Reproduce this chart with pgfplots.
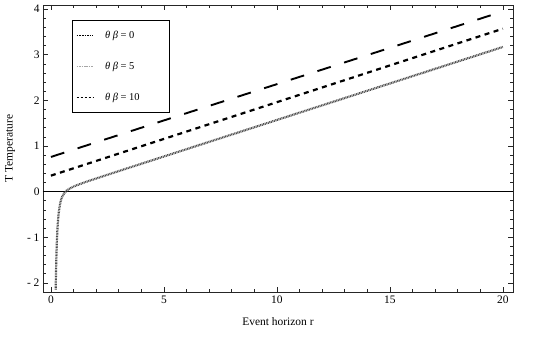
\documentclass[border=0pt]{standalone}
\usepackage{fontspec}
\setmainfont{Liberation Serif}
\usepackage{pgfplots}
\pgfplotsset{compat=1.18}
\begin{document}
\begin{tikzpicture}
\begin{axis}[
  scale only axis, width=470bp, height=287bp,
  xmin=-0.35, xmax=20.45, ymin=-2.2, ymax=4.09,
  xtick={0,5,10,15,20}, minor x tick num=4,
  ytick={-2,-1,0,1,2,3,4}, yticklabels={- 2,- 1,0,1,2,3,4}, minor y tick num=4,
  tick align=inside, major tick length=5bp, minor tick length=3bp,
  axis line style={line width=0.8pt, black!85},
  tick style={black!85, line width=0.6pt},
  tick label style={font=\fontsize{11.5}{11.5}\selectfont},
  /pgf/number format/assume math mode=true,
  xlabel={Event horizon r}, ylabel={T Temperature},
  label style={font=\fontsize{11.5}{11.5}\selectfont},
  xlabel style={at={(axis description cs:0.5,0)}, anchor=center, yshift=-30bp},
  ylabel style={at={(axis description cs:0,0.5)}, anchor=center, yshift=33bp},
  legend style={at={(rel axis cs:0.0617,0.948)}, anchor=north west, draw=black, line width=0.8pt,
    font=\fontsize{10.5}{10.5}\selectfont, row sep=18bp, inner xsep=4bp, inner ysep=9bp},
  legend cell align=left,
]
\coordinate (O) at (rel axis cs:0,0);
\addplot[forget plot, black, line width=0.8pt] coordinates {(-0.35,0) (20.45,0)};
% theta beta = 0
\addplot[black, line width=1.9pt, dash pattern=on 14bp off 14bp,
  legend image code/.code={\draw[black, line width=0.6pt, dash pattern=on 1.6pt off 1pt] (0bp,0bp) -- (16bp,0bp);}]
  coordinates {(0,0.76) (5,1.56) (10,2.355) (15,3.15) (20,3.95)};
\addlegendentry{\makebox[68bp][l]{\hspace{10bp}\textit{θ} \textit{β} = 0}}
% theta beta = 5
\addplot[gray!60!black, line width=2.2pt, dash pattern=on 0.9bp off 0.7bp,
  legend image code/.code={\draw[gray!70, line width=0.6pt, dash pattern=on 1.6pt off 0.8pt] (0bp,0bp) -- (16bp,0bp);}]
  coordinates {(0.212,-2.15) (0.22,-1.90) (0.24,-1.46) (0.26,-1.14) (0.28,-0.91) (0.30,-0.73)
  (0.33,-0.54) (0.36,-0.41) (0.40,-0.28) (0.45,-0.18) (0.50,-0.11) (0.60,-0.028) (0.70,0.023)
  (0.80,0.058) (1.0,0.11) (1.2,0.15) (1.5,0.204) (2,0.2875) (3,0.45) (5,0.77) (10,1.57) (15,2.37) (20,3.17)};
\addlegendentry{\hspace{10bp}\textit{θ} \textit{β} = 5}
% theta beta = 10
\addplot[black, line width=2.2pt, dash pattern=on 5bp off 4.5bp,
  legend image code/.code={\draw[black, line width=0.7pt, dash pattern=on 2pt off 2pt] (0bp,0bp) -- (16bp,0bp);}]
  coordinates {(0,0.35) (5,1.155) (10,1.96) (15,2.765) (20,3.57)};
\addlegendentry{\hspace{10bp}\textit{θ} \textit{β} = 10}
\end{axis}
\path (O) ++(-43bp,-47bp) rectangle ++(545bp,339bp);
\end{tikzpicture}
\end{document}
